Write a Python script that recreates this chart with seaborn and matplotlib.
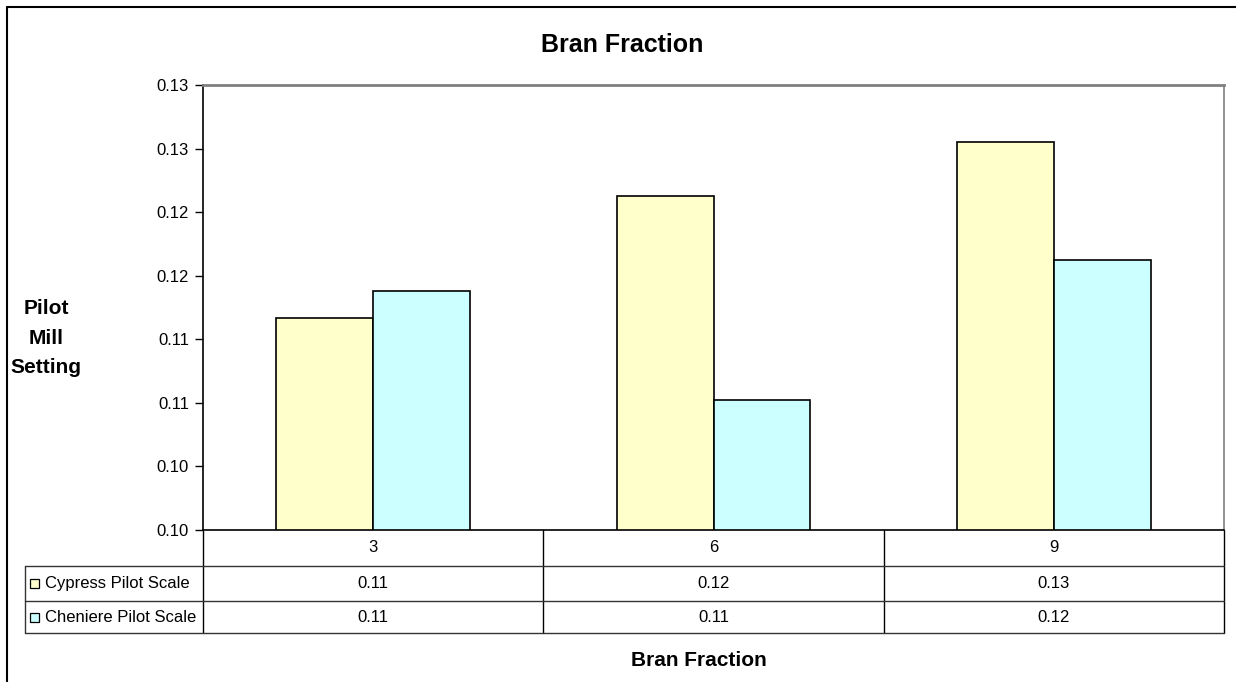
import matplotlib
matplotlib.use("Agg")
import matplotlib.pyplot as plt
from matplotlib.lines import Line2D
from matplotlib.patches import Rectangle
import matplotlib.transforms as mtransforms
import seaborn as sns
import pandas as pd

# values
fractions = ["3", "6", "9"]
cypress = [0.1117, 0.1213, 0.1255]
cheniere = [0.1138, 0.1052, 0.1162]
series_names = ["Cypress Pilot Scale", "Cheniere Pilot Scale"]
y_ticks = [0.095, 0.100, 0.105, 0.110, 0.115, 0.120, 0.125, 0.130]

colors = ["#FFFFCC", "#CCFFFF"]

df = pd.DataFrame({
    "fraction": fractions * 2,
    "value": cypress + cheniere,
    "series": [series_names[0]] * 3 + [series_names[1]] * 3,
})

sns.set_style("white")
plt.rcParams["font.family"] = ["Liberation Sans", "DejaVu Sans"]
plt.rcParams["text.color"] = "black"
plt.rcParams["ytick.color"] = "black"
plt.rcParams["xtick.color"] = "black"

W, H = 1236, 682
fig = plt.figure(figsize=(W / 100, H / 100), dpi=100)


def fx(px):
    return px / W


def fy(py):
    return 1 - py / H


# plot area
left, right, top, bottom = 203, 1224, 85, 530
ax = fig.add_axes([fx(left), fy(bottom), fx(right - left), (bottom - top) / H])

sns.barplot(data=df, x="fraction", y="value", hue="series", palette=colors,
            saturation=1, edgecolor="black", linewidth=1.2, width=0.57, ax=ax,
            legend=False)

ax.set_ylim(0.095, 0.130)
ax.set_xlim(-0.5, 2.5)
ax.set_yticks(y_ticks)
ax.set_yticklabels([f"{round(v + 1e-9, 2):.2f}" for v in y_ticks], fontsize=12)
ax.set_xticks([])
ax.set_xlabel("")
ax.set_ylabel("")
ax.tick_params(axis="y", direction="out", length=6, width=1, color="black",
               labelcolor="black", left=True, pad=4)
for s in ["left", "bottom"]:
    ax.spines[s].set_color("black")
    ax.spines[s].set_linewidth(1.2)
ax.spines["top"].set_color("#808080")
ax.spines["top"].set_linewidth(2)
ax.spines["right"].set_color("#808080")
ax.spines["right"].set_linewidth(1.2)

# data table under the axis
trans = mtransforms.blended_transform_factory(ax.transData, fig.transFigure)
row_y = [530, 566, 601, 633]
lw = 1.0
col_edges = [-0.5, 0.5, 1.5, 2.5]
for xe in col_edges:
    ax.add_artist(Line2D([xe, xe], [fy(row_y[0]), fy(row_y[-1])], transform=trans,
                         color="black", lw=lw, clip_on=False))
for ry in row_y[1:]:
    fig.add_artist(Line2D([fx(25), fx(right)], [fy(ry), fy(ry)], color="#333333", lw=lw))
fig.add_artist(Line2D([fx(25), fx(25)], [fy(row_y[1]), fy(row_y[-1])], color="#333333", lw=lw))

for i, f in enumerate(fractions):
    ax.text(i, fy((row_y[0] + row_y[1]) / 2), f, transform=trans,
            ha="center", va="center", fontsize=12)
    ax.text(i, fy((row_y[1] + row_y[2]) / 2), f"{cypress[i]:.2f}", transform=trans,
            ha="center", va="center", fontsize=12)
    ax.text(i, fy((row_y[2] + row_y[3]) / 2), f"{cheniere[i]:.2f}", transform=trans,
            ha="center", va="center", fontsize=12)

# legend keys in the table
for k, name in enumerate(series_names):
    cy = (row_y[k + 1] + row_y[k + 2]) / 2
    fig.add_artist(Rectangle((fx(30), fy(cy + 4.5)), fx(9), 9 / H,
                             facecolor=colors[k], edgecolor="black", lw=0.9))
    fig.text(fx(45), fy(cy), name, ha="left", va="center", fontsize=12)

# titles
fig.text(fx(622), fy(45), "Bran Fraction", ha="center", va="center",
         fontsize=18, fontweight="bold")
fig.text(fx(699), fy(660), "Bran Fraction", ha="center", va="center",
         fontsize=15, fontweight="bold")
fig.text(fx(46), fy(338), "Pilot\nMill\nSetting", ha="center", va="center",
         fontsize=15, fontweight="bold", linespacing=1.7)

# chart border (cut off at right and bottom)
fig.add_artist(Line2D([fx(7), 1], [fy(7), fy(7)], color="black", lw=1.5))
fig.add_artist(Line2D([fx(7), fx(7)], [fy(7), 0], color="black", lw=1.5))

fig.savefig("out.png", dpi=100, facecolor="white")
